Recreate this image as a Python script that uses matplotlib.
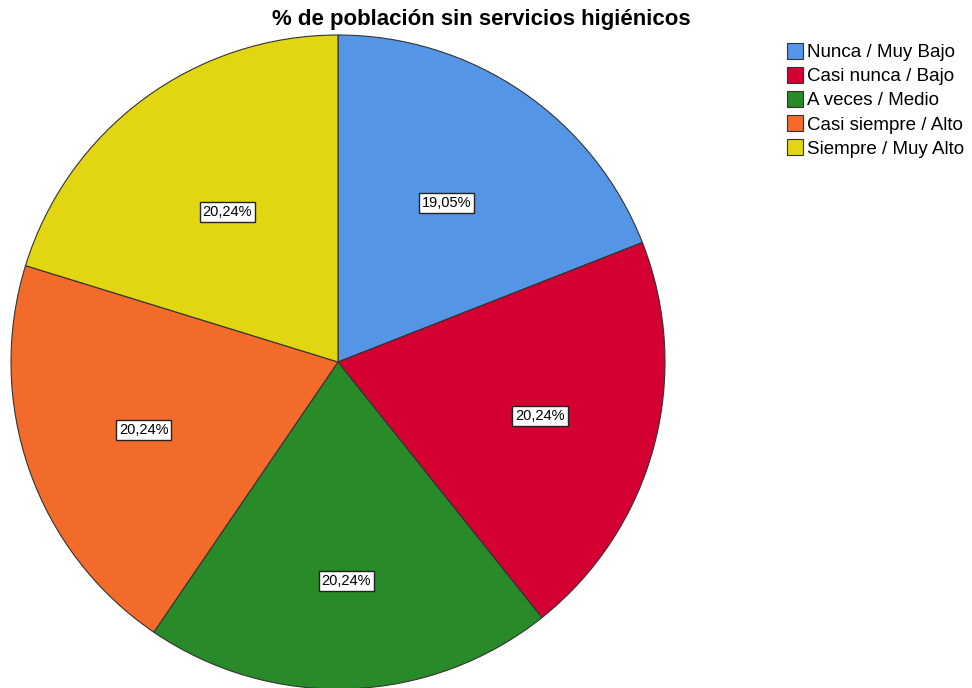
import numpy as np
import matplotlib.pyplot as plt

plt.rcParams['font.family'] = ['Liberation Sans', 'DejaVu Sans']

categories = ['Nunca / Muy Bajo', 'Casi nunca / Bajo', 'A veces / Medio',
              'Casi siempre / Alto', 'Siempre / Muy Alto']
values = [19.05, 20.24, 20.24, 20.24, 20.24]
labels = ['19,05%', '20,24%', '20,24%', '20,24%', '20,24%']
colors = ['#5595E5', '#D50032', '#288A28', '#F26B2A', '#E2D511']

# label distance from center (fraction of radius), per slice
label_r = [0.59, 0.64, 0.67, 0.63, 0.57]

fig = plt.figure(figsize=(9.72, 6.88), dpi=100)
ax = fig.add_axes([11 / 972, -1 / 688, 654 / 972, 654 / 688])

wedges, _ = ax.pie(values, colors=colors, startangle=90, counterclock=False,
                   radius=1.0, wedgeprops=dict(edgecolor='#333333', linewidth=0.8))
ax.set_xlim(-1, 1)
ax.set_ylim(-1, 1)
ax.set_aspect('equal')
ax.axis('off')

for w, lab, r in zip(wedges, labels, label_r):
    ang = np.deg2rad((w.theta1 + w.theta2) / 2)
    ax.text(r * np.cos(ang), r * np.sin(ang), lab, ha='center', va='center',
            fontsize=10.5,
            bbox=dict(boxstyle='square,pad=0.2', facecolor='white',
                      edgecolor='#222222', linewidth=1.0))

fig.text(481 / 972, 1 - 20 / 688, '% de población sin servicios higiénicos',
         ha='center', va='center', fontsize=16, fontweight='bold')

fig.legend(wedges, categories, loc='upper left', bbox_to_anchor=(779 / 972, 1 - 35 / 688),
           frameon=False, fontsize=13.5, handlelength=0.9, handleheight=0.95,
           handletextpad=0.2, labelspacing=0.3, borderaxespad=0)

fig.savefig('out.png', dpi=100)
